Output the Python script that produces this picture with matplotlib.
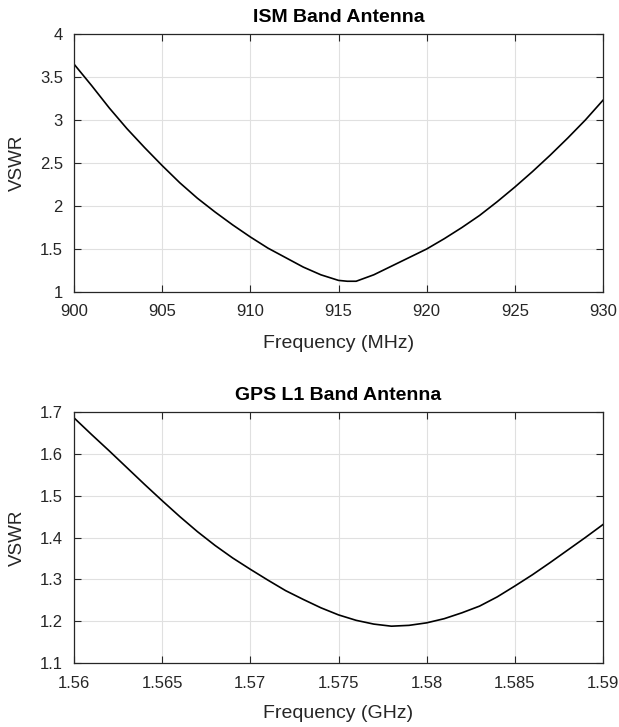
import matplotlib
matplotlib.use("Agg")
import matplotlib.pyplot as plt

plt.rcParams['font.family'] = ['Liberation Sans', 'DejaVu Sans']

ism_freq = [900, 901, 902, 903, 904, 905, 906, 907, 908, 909, 910, 911, 912, 913, 914,
            915, 915.5, 916, 917, 918, 919, 920, 921, 922, 923, 924, 925, 926, 927, 928, 929, 930]
ism_vswr = [3.65, 3.40, 3.14, 2.90, 2.68, 2.47, 2.27, 2.09, 1.93, 1.78, 1.64, 1.51, 1.40, 1.29, 1.20,
            1.135, 1.125, 1.125, 1.20, 1.30, 1.40, 1.50, 1.62, 1.75, 1.89, 2.05, 2.22, 2.40, 2.59, 2.79, 3.00, 3.23]

gps_freq = [1.560, 1.561, 1.562, 1.563, 1.564, 1.565, 1.566, 1.567, 1.568, 1.569, 1.570,
            1.571, 1.572, 1.573, 1.574, 1.575, 1.576, 1.577, 1.578, 1.579, 1.580,
            1.581, 1.582, 1.583, 1.584, 1.585, 1.586, 1.587, 1.588, 1.589, 1.590]
gps_vswr = [1.686, 1.646, 1.607, 1.567, 1.527, 1.488, 1.450, 1.414, 1.381, 1.351, 1.324,
            1.298, 1.273, 1.252, 1.232, 1.215, 1.202, 1.193, 1.188, 1.190, 1.196,
            1.206, 1.220, 1.236, 1.258, 1.284, 1.311, 1.340, 1.370, 1.400, 1.431]

ism_xticks = [900, 905, 910, 915, 920, 925, 930]
ism_xlabels = ['900', '905', '910', '915', '920', '925', '930']
ism_yticks = [1, 1.5, 2, 2.5, 3, 3.5, 4]
ism_ylabels = ['1', '1.5', '2', '2.5', '3', '3.5', '4']
gps_xticks = [1.56, 1.565, 1.57, 1.575, 1.58, 1.585, 1.59]
gps_xlabels = ['1.56', '1.565', '1.57', '1.575', '1.58', '1.585', '1.59']
gps_yticks = [1.1, 1.2, 1.3, 1.4, 1.5, 1.6, 1.7]
gps_ylabels = ['1.1', '1.2', '1.3', '1.4', '1.5', '1.6', '1.7']

fig = plt.figure(figsize=(6.19, 7.27), dpi=100)
W, H = 619, 727
L, R = 74, 603
ax1 = fig.add_axes([L / W, 1 - 292 / H, (R - L) / W, (292 - 34) / H])
ax2 = fig.add_axes([L / W, 1 - 663 / H, (R - L) / W, (663 - 412) / H])

TXT = '#262626'

def style(ax, title, xlabel, xt, xl, yt, yl, xlim, ylim, hpx):
    ax.set_xlim(*xlim)
    ax.set_ylim(*ylim)
    ax.set_xticks(xt)
    ax.set_xticklabels(xl)
    ax.set_yticks(yt)
    ax.set_yticklabels(yl)
    ax.grid(True, color='#e0e0e0', linewidth=0.8)
    ax.set_axisbelow(True)
    ax.tick_params(direction='in', top=True, right=True, length=5, width=0.8,
                   labelsize=12, colors=TXT)
    ax.tick_params(axis='x', pad=9)
    ax.tick_params(axis='y', pad=8)
    for s in ax.spines.values():
        s.set_color(TXT)
        s.set_linewidth(0.9)
    ax.text(0.5, 1 + 16.5 / hpx, title, transform=ax.transAxes, ha='center', va='center',
            fontsize=14, fontweight='bold', color='black')
    ax.set_xlabel(xlabel, fontsize=14, color=TXT, va='center')
    ax.xaxis.set_label_coords(0.5, -51 / hpx)
    ax.set_ylabel('VSWR', fontsize=13.5, color=TXT, va='center', ha='center')
    ax.yaxis.set_label_coords(-(L - 17) / (R - L), 0.5)

ax1.plot(ism_freq, ism_vswr, color='black', linewidth=1.2)
style(ax1, 'ISM Band Antenna', 'Frequency (MHz)', ism_xticks, ism_xlabels,
      ism_yticks, ism_ylabels, (900, 930), (1, 4), 292 - 34)

ax2.plot(gps_freq, gps_vswr, color='black', linewidth=1.2)
style(ax2, 'GPS L1 Band Antenna', 'Frequency (GHz)', gps_xticks, gps_xlabels,
      gps_yticks, gps_ylabels, (1.56, 1.59), (1.1, 1.7), 663 - 412)

fig.savefig('out.png', dpi=100)
